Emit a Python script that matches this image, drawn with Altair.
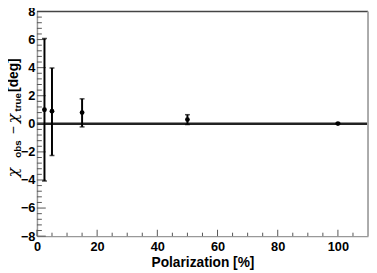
import altair as alt
import pandas as pd

# measured points: polarization [%], chi_obs - chi_true [deg], error bar ends
pol = [2.5, 5, 15, 50, 100]
dchi = [1.0, 0.9, 0.8, 0.3, 0.02]
err_lo = [-4.07, -2.25, -0.22, -0.05, -0.02]
err_hi = [6.07, 3.97, 1.78, 0.65, 0.06]

# axis ticks
x_major = [0, 20, 40, 60, 80, 100]
x_minor = [5, 10, 15, 25, 30, 35, 45, 50, 55, 65, 70, 75, 85, 90, 95, 105]
y_major = [-8, -6, -4, -2, 0, 2, 4, 6, 8]
y_minor = [-7.6, -7.2, -6.8, -6.4, -5.6, -5.2, -4.8, -4.4, -3.6, -3.2, -2.8, -2.4,
           -1.6, -1.2, -0.8, -0.4, 0.4, 0.8, 1.2, 1.6, 2.4, 2.8, 3.2, 3.6,
           4.4, 4.8, 5.2, 5.6, 6.4, 6.8, 7.2, 7.6]
zero = [0]

W, H = 337.5, 229
FONT = "Liberation Sans"

df = pd.DataFrame({"pol": pol, "dchi": dchi, "lo": err_lo, "hi": err_hi})
xs = alt.Scale(domain=[0, 110], nice=False, zero=False)
ys = alt.Scale(domain=[-8, 8], nice=False, zero=False)

base = alt.Chart(df)

points = base.mark_point(filled=True, color="black", size=24, opacity=1).encode(
    x=alt.X("pol:Q", scale=xs, axis=alt.Axis(
        values=x_major, title="Polarization [%]", ticks=False, tickSize=0, grid=False,
        labelFlush=False, labelOverlap=False, domainColor="#999999", domainWidth=1.5,
        labelFont=FONT, labelFontSize=13, labelFontWeight="bold", labelColor="black",
        labelPadding=5, titleFont=FONT, titleFontSize=14, titleFontWeight="bold",
        titleColor="black", titlePadding=2)),
    y=alt.Y("dchi:Q", scale=ys, axis=alt.Axis(
        values=y_major, title="", ticks=False, tickSize=0, grid=False,
        labelFlush=False, labelOverlap=False, domainColor="#999999", domainWidth=1.5,
        labelFont=FONT, labelFontSize=13, labelFontWeight="bold", labelColor="black",
        labelPadding=2)),
)

bars = base.mark_rule(color="black", strokeWidth=2).encode(
    x=alt.X("pol:Q", scale=xs, axis=None),
    y=alt.Y("lo:Q", scale=ys, axis=None),
    y2="hi:Q",
)
cap_hi = base.mark_tick(color="black", orient="horizontal", size=5, thickness=1.5).encode(
    x=alt.X("pol:Q", scale=xs, axis=None),
    y=alt.Y("hi:Q", scale=ys, axis=None),
)
cap_lo = base.mark_tick(color="black", orient="horizontal", size=5, thickness=1.5).encode(
    x=alt.X("pol:Q", scale=xs, axis=None),
    y=alt.Y("lo:Q", scale=ys, axis=None),
)

zline = alt.Chart(pd.DataFrame({"z": zero})).mark_rule(color="#222222", strokeWidth=2.5).encode(
    y=alt.Y("z:Q", scale=ys, axis=None)
)

ymaj = alt.Chart(pd.DataFrame({"v": y_major})).mark_rule(color="#555555", strokeWidth=1).encode(
    y=alt.Y("v:Q", scale=ys, axis=None), x=alt.value(0), x2=alt.value(9))
ymin = alt.Chart(pd.DataFrame({"v": y_minor})).mark_rule(color="#555555", strokeWidth=1).encode(
    y=alt.Y("v:Q", scale=ys, axis=None), x=alt.value(0), x2=alt.value(5))
xmaj = alt.Chart(pd.DataFrame({"v": x_major})).mark_rule(color="#555555", strokeWidth=1).encode(
    x=alt.X("v:Q", scale=xs, axis=None), y=alt.value(H), y2=alt.value(H - 6.5))
xmin = alt.Chart(pd.DataFrame({"v": x_minor})).mark_rule(color="#555555", strokeWidth=1).encode(
    x=alt.X("v:Q", scale=xs, axis=None), y=alt.value(H), y2=alt.value(H - 3.5))

top_frame = alt.Chart(pd.DataFrame({"z": zero})).mark_rule(color="#444444", strokeWidth=1.5).encode(
    x=alt.value(0), x2=alt.value(W), y=alt.value(0))
right_frame = alt.Chart(pd.DataFrame({"z": zero})).mark_rule(color="#aaaaaa", strokeWidth=2).encode(
    x=alt.value(W), y=alt.value(0), y2=alt.value(H))

# y-axis title with subscripts, built from rotated text pieces
title_parts = pd.DataFrame({
    "t": ["χ", "obs", "−", "χ", "true", "[deg]"],
    "px": [-24, -19, -23.5, -24, -19, -23.5],
    "py": [169, 149, 121, 114, 102, 82],
})
chi_df = title_parts.iloc[[0, 3]]
sub_df = title_parts.iloc[[1, 4]]
minus_df = title_parts.iloc[[2]]
deg_df = title_parts.iloc[[5]]

chi_t = alt.Chart(chi_df).mark_text(angle=270, align="left", baseline="middle",
                                    font="DejaVu Serif", fontStyle="italic",
                                    fontSize=16, color="black").encode(
    text="t:N", x=alt.X("px:Q", scale=None), y=alt.Y("py:Q", scale=None))
sub_t = alt.Chart(sub_df).mark_text(angle=270, align="left", baseline="middle",
                                    font=FONT, fontWeight="bold",
                                    fontSize=10, color="black").encode(
    text="t:N", x=alt.X("px:Q", scale=None), y=alt.Y("py:Q", scale=None))
minus_t = alt.Chart(minus_df).mark_text(angle=270, align="center", baseline="middle",
                                        font=FONT, fontSize=14, color="black").encode(
    text="t:N", x=alt.X("px:Q", scale=None), y=alt.Y("py:Q", scale=None))
deg_t = alt.Chart(deg_df).mark_text(angle=270, align="left", baseline="middle",
                                    font=FONT, fontWeight="bold",
                                    fontSize=14, color="black").encode(
    text="t:N", x=alt.X("px:Q", scale=None), y=alt.Y("py:Q", scale=None))

chart = alt.layer(
    zline, ymaj, ymin, xmaj, xmin, top_frame, right_frame,
    bars, cap_hi, cap_lo, points,
    chi_t, sub_t, minus_t, deg_t,
).resolve_scale(x="independent", y="independent").properties(
    width=W, height=H,
    autosize=alt.AutoSizeParams(type="none"),
    padding={"left": 29.5, "top": 1, "right": 1, "bottom": 34},
    background="white",
).configure_view(stroke=None)

chart.save("out.html", embed_options={"renderer": "svg", "actions": False})
